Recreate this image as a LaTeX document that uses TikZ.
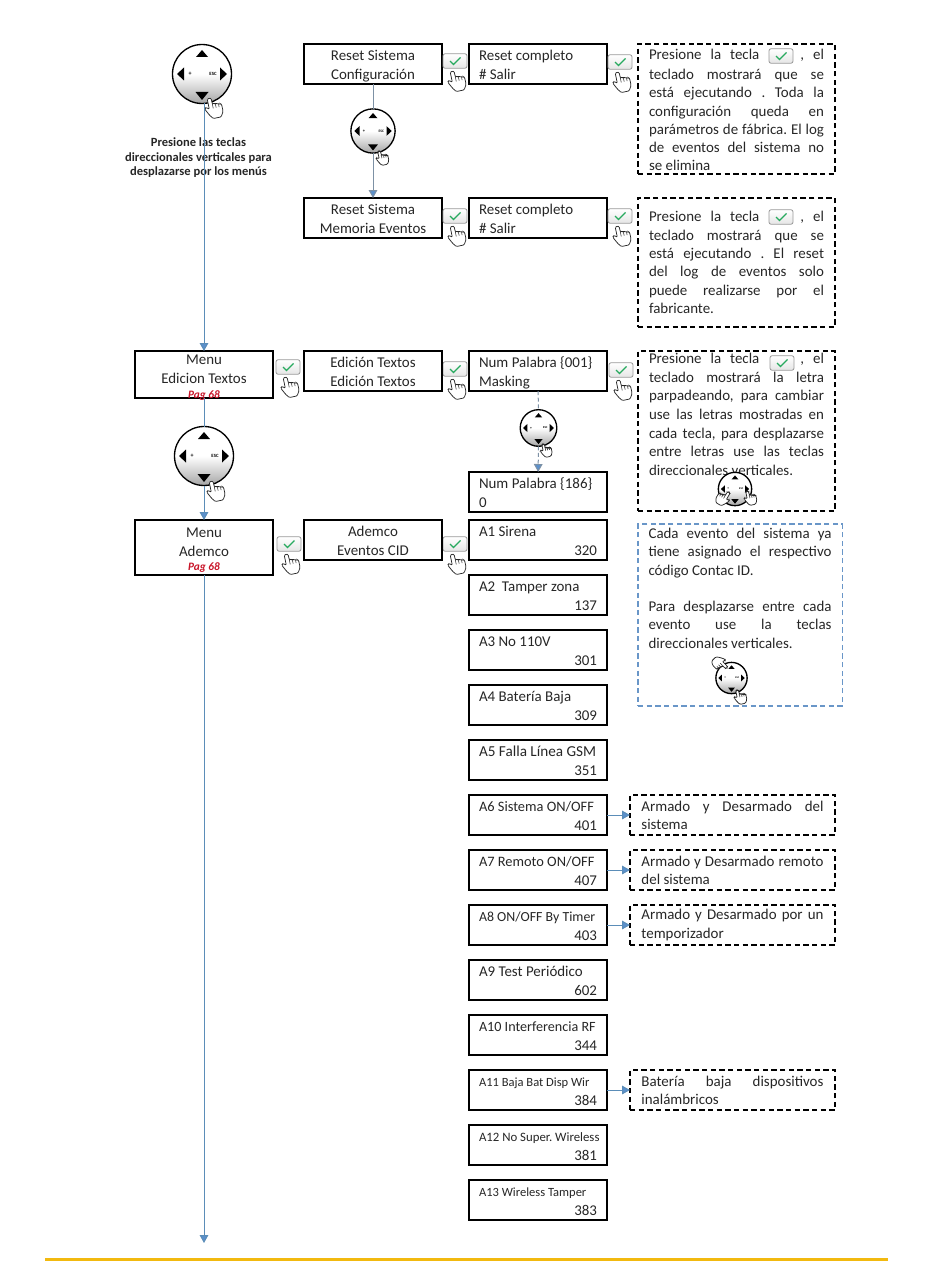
\documentclass[tikz,border=0pt]{standalone}
\usepackage{fontspec}
\setmainfont{Carlito}
\usetikzlibrary{arrows.meta, positioning, shapes.misc}
\definecolor{lineablue}{RGB}{91,141,184}
\definecolor{lineagris}{RGB}{125,145,165}
\definecolor{tipblue}{RGB}{91,144,204}
\definecolor{notablue}{RGB}{105,150,200}
\definecolor{checkgreen}{RGB}{40,170,95}
\definecolor{pagred}{RGB}{200,20,40}
\definecolor{rulegold}{RGB}{242,185,15}
\newcommand{\codigo}[1]{\hspace*{0pt plus 1fill}#1}
\newcommand{\evento}[2]{\mbox{\fontsize{#1}{14}\selectfont #2}}
\frenchspacing
\begin{document}
\begin{tikzpicture}[
        x=0.75pt, y=-0.75pt,
        node distance=11.25pt,
        every node/.style={outer sep=0pt},
        textobase/.style={font=\fontsize{11.2}{13.7}\selectfont, text=black!85},
        lcdbase/.style={font=\fontsize{11.2}{14}\selectfont, text=black!85, draw=black, line width=1pt, rectangle, minimum height=30pt},
        alturas/.style={execute at begin node=\rule{0pt}{11pt}, execute at end node=\rule[-2pt]{0pt}{2pt}},
        lcdcentro/.style={lcdbase, alturas, text width=103.5pt, inner sep=0pt, align=flush center},
        lcdizq/.style={lcdbase, alturas, inner xsep=7.5pt, inner ysep=0pt, text width=88.5pt, align=flush left},
        menubox/.style={lcdbase, minimum height=35.25pt, inner sep=0pt, text width=103.5pt, align=flush center},
        pagtexto/.style={font=\fontsize{8.5}{10}\selectfont\bfseries\itshape, text=pagred, inner sep=0pt},
        notagrande/.style={textobase, draw=black, line width=0.85pt, dash pattern=on 4pt off 2.5pt, rectangle, anchor=north west, minimum height=#1, inner xsep=8.25pt, inner ysep=0pt, text width=131.25pt, align=justify},
        notachica/.style={textobase, draw=black, line width=0.85pt, dash pattern=on 4pt off 2.5pt, rectangle, minimum height=30pt, inner xsep=8.6pt, inner ysep=0pt, text width=136.5pt, align=justify},
        flecha/.style={draw=lineablue, line width=0.75pt, -{Triangle[length=6pt, width=6.5pt, fill=tipblue]}},
        linea/.style={draw=lineablue, line width=0.75pt},
        teclaok/.style={draw=black!40, rounded corners=1.5pt, line width=0.6pt, top color=white, bottom color=black!10, minimum width=18pt, minimum height=10.8pt, inner sep=0pt},
        keypad/.pic={
            \node[circle, draw=black, line width=1pt, minimum size=44.25pt, inner sep=0pt, transform shape, top color=white, bottom color=black!35, middle color=white] (-c) {};
            \fill[black] (-6,-17) -- (6,-17) -- (0,-24) -- cycle;
            \fill[black] (-6.5,18) -- (6.5,18) -- (0,26) -- cycle;
            \fill[black] (-18,-6.5) -- (-18,6.5) -- (-25,0) -- cycle;
            \fill[black] (18,-6.5) -- (18,6.5) -- (25,0) -- cycle;
            \node[transform shape, inner sep=0pt, font=\fontsize{4.5}{4.5}\selectfont\bfseries] (-mas) at (-12,0) {+};
            \node[transform shape, inner sep=0pt, font=\fontsize{3.6}{3.6}\selectfont\bfseries] (-esc) at (11,0) {ESC};
        },
        handicon/.pic={
            \draw[black!85, fill=white, line width=0.55pt, rounded corners=0.8pt] (0,0) -- (-2,1) -- (-2,11) -- (-5,8.5) -- (-6.5,10) -- (-3,17) -- (0,21) -- (8,21) -- (11,16) -- (11,9) -- (9.5,7.5) -- (8,8.5) -- (7,6.5) -- (5,7.5) -- (4,6) -- (2,6.5) -- (2,1) -- cycle;
            \draw[black!85, line width=0.4pt] (2,6.5) -- (2,11) (5,7.5) -- (5,11) (8,8.5) -- (8,11);
        },
        checkmark/.pic={
            \draw[checkgreen, line width=0.9pt] (-5,0) -- (-1.5,3.5) -- (5.5,-3.5);
        },
        okkey/.pic={
            \node[teclaok] (-k) {};
            \pic at (0,0) {checkmark};
            \pic[rotate=12] at (-3,10) {handicon};
        }
    ]
        \useasboundingbox (0,0) rectangle (950,1284);

        \pic (padA) at (202,74) {keypad};
        \pic[rotate=12] at (209,98) {handicon};
        \node[font=\fontsize{9.4}{10.9}\selectfont\bfseries, text=black!85, align=center, inner sep=0pt] (caption) at (198.5,158) {Presione las teclas\\direccionales verticales para\\desplazarse por los menús};

        \node[lcdcentro] (rsconf) at (373,64) {Reset Sistema\\Configuración};
        \node[lcdizq, right=20.25pt of rsconf] (rcuno) {Reset completo\\\# Salir};
        \node[lcdcentro] (rsmem) at (373,218) {Reset Sistema\\Memoria Eventos};
        \node[lcdizq, right=20.25pt of rsmem] (rcdos) {Reset completo\\\# Salir};

        \pic[scale=0.75] (padC) at (373,131) {keypad};
        \pic[rotate=12, scale=0.7] at (379,151) {handicon};
        \draw[linea, draw=lineagris] (rsconf) -- (padC-c);
        \draw[flecha, draw=lineagris] (padC-c) -- (rsmem);

        \node[notagrande=97.5pt] (notauno) at (638,44) {\vspace*{1.5pt}Presione la tecla \hspace*{24pt}, el\linebreak teclado mostrará que se\linebreak está ejecutando . Toda la\linebreak configuración queda en\linebreak parámetros de fábrica. El log\linebreak de eventos del sistema no\linebreak se elimina\par\vspace{-1.5pt}};
        \node[notagrande=96.75pt] (notados) at (638,198) {Presione la tecla \hspace*{24pt}, el\linebreak teclado mostrará que se\linebreak está ejecutando . El reset\linebreak del log de eventos solo\linebreak puede realizarse por el\linebreak fabricante.};

        \pic (okA) at (455,61) {okkey};
        \pic (okB) at (620,62) {okkey};
        \pic (okC) at (455,216) {okkey};
        \pic (okD) at (620,216) {okkey};
        \pic (okE) at (288,367) {okkey};
        \pic (okF) at (455,369) {okkey};
        \pic (okG) at (621,370) {okkey};
        \pic (okH) at (289,544) {okkey};
        \pic (okI) at (455,544) {okkey};

        \node[menubox] (menutext) at (204,374.5) {Menu\\Edicion Textos\par\vspace{8pt}};
        \node[pagtexto, below=12pt of menutext.center] (pagtext) {Pag 68};
        \node[lcdcentro] (edtext) at (373,371) {Edición Textos\\Edición Textos};
        \node[lcdizq, right=20.25pt of edtext] (numuno) {Num Palabra \{001\}\\Masking};
        \node[lcdizq] (numdos) at (538,492) {Num Palabra \{186\}\\0};

        \pic (padB) at (204,456) {keypad};
        \pic[rotate=12] at (211,481) {handicon};
        \pic[scale=0.62] (padD) at (538.5,428) {keypad};
        \pic[rotate=12, scale=0.65] at (543,444) {handicon};
        \draw[linea, draw=lineagris, densely dashed] (numuno) -- (padD-c);
        \draw[flecha, draw=lineagris, densely dashed] (padD-c) -- (numdos);

        \node[notagrande=120pt, font=\fontsize{11.2}{14}\selectfont, inner ysep=-1.5pt] (notatres) at (638,351) {Presione la tecla \hspace*{24pt}, el\linebreak teclado mostrará la letra\linebreak parpadeando, para cambiar\linebreak use las letras mostradas en\linebreak cada tecla, para desplazarse\linebreak entre letras use las teclas\linebreak direccionales verticales.\par\vspace{25pt}};
        \pic[scale=0.565] (padE) at (735,489) {keypad};
        \pic[rotate=-30, scale=0.75, xscale=-1] at (729,492) {handicon};
        \pic[rotate=12, scale=0.7] at (747,491) {handicon};

        \node[menubox, minimum height=41.25pt] (menuademco) at (204,547.5) {Menu\\Ademco\par\vspace{8pt}};
        \node[pagtexto, below=11.5pt of menuademco.center] (pagademco) {Pag 68};
        \node[lcdcentro] (ademco) at (373,540) {Ademco\\Eventos CID};
        \coordinate (finmenu) at (204,1243);

        \draw[flecha] (menutext.north |- padA-c.south) -- (menutext);
        \draw[linea] (menutext) -- (padB-c);
        \draw[flecha] (padB-c) -- (menuademco);
        \draw[flecha] (menuademco) -- (finmenu);

        \node[lcdizq, right=20.25pt of ademco] (aA) {A1 Sirena\\\codigo{320}};
        \node[lcdizq, below=of aA] (aB) {A2\ \ Tamper zona\\\codigo{137}};
        \node[lcdizq, below=of aB] (aC) {A3 No 110V\\\codigo{301}};
        \node[lcdizq, below=of aC] (aD) {A4 Batería Baja\\\codigo{309}};
        \node[lcdizq, below=of aD] (aE) {\evento{11.4}{A5 Falla Línea GSM}\\\codigo{351}};
        \node[lcdizq, below=of aE] (aF) {\evento{10.8}{A6 Sistema ON/OFF}\\\codigo{401}};
        \node[lcdizq, below=of aF] (aG) {\evento{10.8}{A7 Remoto ON/OFF}\\\codigo{407}};
        \node[lcdizq, below=of aG] (aH) {\evento{10.4}{A8 ON/OFF By Timer}\\\codigo{403}};
        \node[lcdizq, below=of aH] (aI) {A9 Test Periódico\\\codigo{602}};
        \node[lcdizq, below=of aI] (aJ) {\evento{10.6}{A10 Interferencia RF}\\\codigo{344}};
        \node[lcdizq, below=of aJ] (aK) {\evento{9.4}{A11 Baja Bat Disp Wir}\\\codigo{384}};
        \node[lcdizq, below=of aK] (aL) {\evento{9.6}{A12 No Super. Wireless}\\\codigo{381}};
        \node[lcdizq, below=of aL] (aM) {\evento{9.4}{A13 Wireless Tamper}\\\codigo{383}};

        \node[notachica, right=17.25pt of aF] (notaF) {Armado y Desarmado del\linebreak sistema};
        \node[notachica, right=17.25pt of aG] (notaG) {Armado y Desarmado remoto\linebreak del sistema};
        \node[notachica, right=17.25pt of aH] (notaH) {Armado y Desarmado por un\linebreak temporizador};
        \node[notachica, right=17.25pt of aK] (notaK) {Batería baja dispositivos\linebreak inalámbricos};
        \draw[flecha] (aF) -- (notaF);
        \draw[flecha] (aG) -- (notaG);
        \draw[flecha] (aH) -- (notaH);
        \draw[flecha] (aK) -- (notaK);

        \node[notagrande=136.5pt, draw=notablue, inner xsep=7.9pt, text width=137.25pt] (notacuatro) at (638,524) {Cada evento del sistema ya\linebreak tiene asignado el respectivo\linebreak código Contac ID.\par\vspace{13.7pt}Para desplazarse entre cada\linebreak evento use la teclas\linebreak direccionales verticales.\par\vspace{40pt}};
        \pic[scale=0.53] (padF) at (731.5,678) {keypad};
        \pic[rotate=-135, scale=0.75] at (727,668) {handicon};
        \pic[rotate=12, scale=0.7] at (737,690) {handicon};

        \node[teclaok] (teclauno) at (781,56) {};
        \pic at (781,56) {checkmark};
        \node[teclaok] (tecladoss) at (781,217) {};
        \pic at (781,217) {checkmark};
        \node[teclaok] (teclatres) at (782,363) {};
        \pic at (782,363) {checkmark};

        \draw[rulegold, line width=2.6pt] (45,1259.5) -- (888,1259.5);
    \end{tikzpicture}
\end{document}
